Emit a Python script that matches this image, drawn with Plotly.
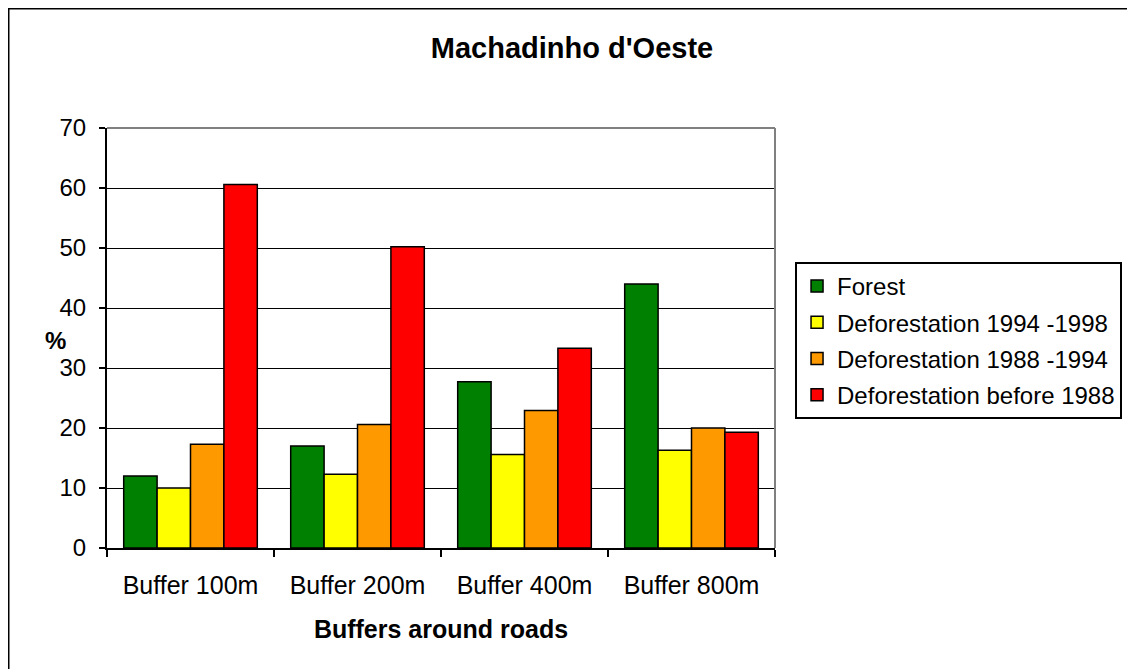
import plotly.graph_objects as go

# Data
categories = ['Buffer 100m', 'Buffer 200m', 'Buffer 400m', 'Buffer 800m']
forest = [12.0, 17.0, 27.7, 44.0]
defor_94_98 = [10.0, 12.3, 15.6, 16.3]
defor_88_94 = [17.3, 20.6, 22.9, 20.0]
defor_before_88 = [60.6, 50.2, 33.3, 19.3]

series = [
    ('Forest', forest, '#008000'),
    ('Deforestation 1994 -1998', defor_94_98, '#FFFF00'),
    ('Deforestation 1988 -1994', defor_88_94, '#FF9900'),
    ('Deforestation before 1988', defor_before_88, '#FF0000'),
]

FONT = 'Liberation Sans, Arial, sans-serif'

fig = go.Figure()
for i, (name, vals, color) in enumerate(series):
    fig.add_trace(go.Bar(
        x=categories, y=vals, name=name, legendgroup=f'g{i}',
        marker=dict(color=color, line=dict(color='black', width=1.5)),
    ))

# plot-area frame (grey top/right) and outer chart border
fig.add_shape(type='line', xref='paper', yref='paper', x0=0, x1=1, y0=1, y1=1,
              line=dict(color='#808080', width=2))
fig.add_shape(type='line', xref='paper', yref='paper', x0=1, x1=1, y0=0, y1=1,
              line=dict(color='#808080', width=2))
fig.add_shape(type='rect', xref='paper', yref='paper',
              x0=(8 - 107) / 668, x1=1.6, y0=-0.4, y1=(548 - 8) / 420,
              line=dict(color='black', width=3))

# "%" axis label is horizontal in the original
fig.add_annotation(text='<b>%</b>', xref='paper', yref='paper',
                   x=(43 - 107) / 668, y=(548 - 340) / 420,
                   showarrow=False, font=dict(size=24))

# page body adds 8px margin, so the figure is 8px smaller and shifted
fig.update_layout(
    width=1127, height=661,
    paper_bgcolor='white', plot_bgcolor='white',
    font=dict(family=FONT, color='black', size=24),
    margin=dict(l=99, r=360, t=120, b=121),
    barmode='group', bargap=0.2, bargroupgap=0,
    title=dict(text="<b>Machadinho d'Oeste</b>", x=564 / 1127, xanchor='center',
               y=1 - 40 / 661, yanchor='middle', font=dict(size=29)),
    showlegend=True,
    legend=dict(x=1.03, xanchor='left', y=0.681, yanchor='top',
                bordercolor='black', borderwidth=2, bgcolor='white',
                font=dict(size=24), tracegroupgap=2, itemwidth=30),
    xaxis=dict(showgrid=False, tickson='boundaries', ticks='outside', ticklen=7,
               tickwidth=2, tickcolor='black', showline=True, linecolor='black',
               linewidth=2, tickfont=dict(size=25), ticklabelstandoff=14,
               title=dict(text='<b>Buffers around roads</b>', standoff=22,
                          font=dict(size=25))),
    yaxis=dict(range=[0, 70], dtick=10, showgrid=True, gridcolor='black', gridwidth=1,
               ticks='outside', ticklen=6, tickwidth=2, tickcolor='black',
               showline=True, linecolor='black', linewidth=2, zeroline=False,
               tickfont=dict(size=24), ticklabelstandoff=8),
)

fig.write_html('out.html')
